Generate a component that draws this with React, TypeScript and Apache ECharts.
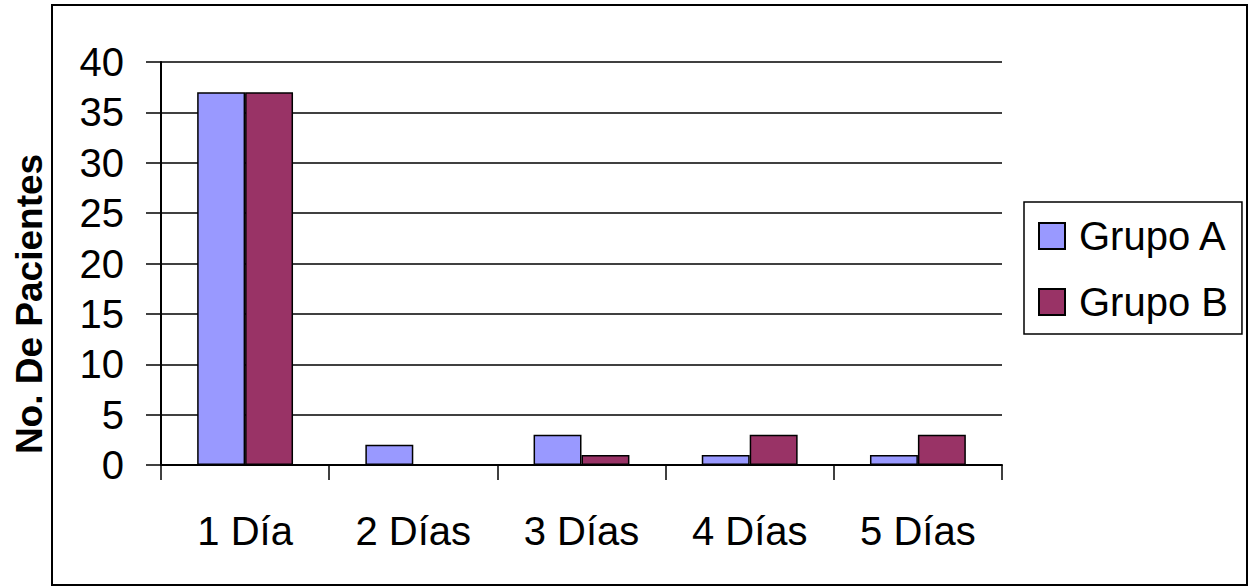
import React, { useEffect, useRef } from "react";
import * as echarts from "echarts";

const categories = ["1 Día", "2 Días", "3 Días", "4 Días", "5 Días"];
const grupoA = [37, 2, 3, 1, 1];
const grupoB = [37, 0, 1, 3, 3];
const seriesNames = ["Grupo A", "Grupo B"];
const yAxisTitle = "No. De Pacientes";

const FONT = "'Liberation Sans', Arial, sans-serif";

export default function App() {
  const ref = useRef<HTMLDivElement>(null);
  useEffect(() => {
    if (!ref.current) return;
    const chart = echarts.init(ref.current, undefined, { renderer: "svg" });
    chart.setOption({
      animation: false,
      backgroundColor: "#ffffff",
      grid: { left: 161, right: 247, top: 62, bottom: 121, containLabel: false },
      legend: {
        orient: "vertical",
        left: 1024,
        top: 202,
        padding: [14, 14, 12, 14],
        itemGap: 26,
        itemWidth: 26,
        itemHeight: 26,
        borderColor: "#000",
        borderWidth: 1.5,
        icon: "rect",
        data: seriesNames,
        textStyle: {
          fontSize: 40,
          fontFamily: FONT,
          color: "#000",
          lineHeight: 34,
          padding: [0, 0, 0, 9],
        },
      },
      xAxis: {
        type: "category",
        data: categories,
        axisLine: { show: true, lineStyle: { color: "#000", width: 2 } },
        axisTick: { show: true, length: 15, interval: 0, lineStyle: { color: "#000", width: 1.5 } },
        axisLabel: { fontSize: 40, fontFamily: FONT, color: "#000", margin: 46, interval: 0 },
        splitLine: { show: false },
      },
      yAxis: {
        type: "value",
        min: 0,
        max: 40,
        interval: 5,
        axisLine: { show: true, lineStyle: { color: "#000", width: 2 } },
        axisTick: { show: true, length: 15, lineStyle: { color: "#000", width: 1.5 } },
        axisLabel: { fontSize: 40, fontFamily: FONT, color: "#000", margin: 37 },
        splitLine: { show: true, lineStyle: { color: "#000", width: 1.5 } },
      },
      series: [
        {
          name: seriesNames[0],
          type: "bar",
          data: grupoA,
          barGap: "0%",
          barCategoryGap: "43%",
          itemStyle: { color: "#9999FF", borderColor: "#000", borderWidth: 1.5 },
        },
        {
          name: seriesNames[1],
          type: "bar",
          data: grupoB,
          barGap: "0%",
          barCategoryGap: "43%",
          itemStyle: { color: "#993366", borderColor: "#000", borderWidth: 1.5 },
        },
      ],
      graphic: [
        {
          type: "rect",
          shape: { x: 52, y: 5, width: 1195, height: 580 },
          style: { fill: "none", stroke: "#000", lineWidth: 2 },
          silent: true,
        },
        {
          type: "text",
          x: 29,
          y: 304,
          rotation: Math.PI / 2,
          style: {
            text: yAxisTitle,
            font: `bold 37px ${FONT}`,
            fill: "#000",
            textAlign: "center",
            textVerticalAlign: "middle",
          },
        },
      ],
    });
    return () => chart.dispose();
  }, []);
  return (
    <div
      ref={ref}
      style={{ position: "fixed", left: 0, top: 0, width: 1249, height: 586, background: "#fff" }}
    />
  );
}
